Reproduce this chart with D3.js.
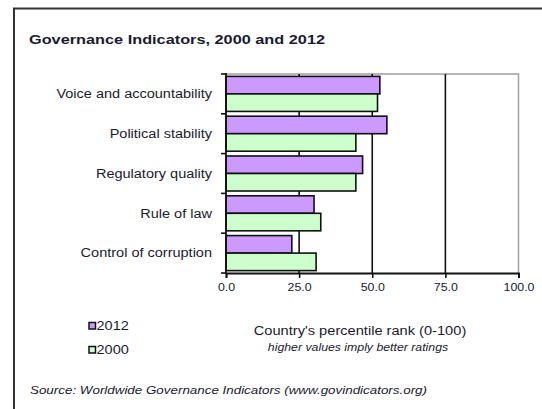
<!DOCTYPE html>
<html>
<head>
<meta charset="utf-8">
<script src="https://cdn.jsdelivr.net/npm/d3@7"></script>
<style>
  html, body { margin: 0; padding: 0; background: #fff; }
  svg { display: block; font-family: Arial, "Liberation Sans", sans-serif; }
</style>
</head>
<body>
<svg id="chart" width="542" height="409"></svg>
<script>
// Governance indicator categories, top to bottom
const categories = [
  "Voice and accountability",
  "Political stability",
  "Regulatory quality",
  "Rule of law",
  "Control of corruption"
];
// Percentile ranks (0-100)
const values2012 = [52.6, 55.0, 46.7, 30.1, 22.5];
const values2000 = [51.8, 44.4, 44.4, 32.4, 30.8];
const seriesNames = ["2012", "2000"];
const seriesColors = ["#cc99ff", "#ccffcc"];
const xTicks = [0, 25, 50, 75, 100];

const textColor = "#1a1a30";
const WIDEN = 1.16; // horizontal widening applied to all chart text
const svg = d3.select("#chart");

// Stretch text horizontally by a factor, keeping its anchor
function widen(sel, factor) {
  sel.each(function () {
    const w = this.getComputedTextLength();
    d3.select(this)
      .attr("textLength", w * factor)
      .attr("lengthAdjust", "spacingAndGlyphs");
  });
  return sel;
}

// Outer frame (only top and left edges fall inside the canvas)
svg.append("path")
  .attr("d", "M14,420 L14,8.5 L560,8.5")
  .attr("fill", "none")
  .attr("stroke", "#333")
  .attr("stroke-width", 2);

svg.append("text")
  .attr("x", 29).attr("y", 44)
  .attr("font-size", 13.5)
  .attr("font-weight", "bold")
  .attr("fill", textColor)
  .text("Governance Indicators, 2000 and 2012")
  .attr("textLength", 296)
  .attr("lengthAdjust", "spacingAndGlyphs");

const plot = { left: 226, right: 518.5, top: 74, bottom: 273 };

const x = d3.scaleLinear().domain([0, 100]).range([plot.left, plot.right]);
const y = d3.scaleBand().domain(categories)
  .range([plot.top, plot.bottom])
  .paddingInner(0.12).paddingOuter(0.06);
const ySub = d3.scaleBand().domain(seriesNames).range([0, y.bandwidth()]);

const rows = categories.map((c, i) => ({
  category: c,
  series: [
    { name: "2012", value: values2012[i], color: seriesColors[0] },
    { name: "2000", value: values2000[i], color: seriesColors[1] }
  ]
}));

// Plot frame: grey top and right edges
svg.append("path")
  .attr("d", `M${plot.left},${plot.top} L${plot.right},${plot.top} L${plot.right},${plot.bottom}`)
  .attr("fill", "none")
  .attr("stroke", "#a0a0a0")
  .attr("stroke-width", 1.5);

// Vertical gridlines
svg.append("g").selectAll("line")
  .data([25, 50, 75])
  .join("line")
  .attr("x1", d => x(d)).attr("x2", d => x(d))
  .attr("y1", plot.top).attr("y2", plot.bottom)
  .attr("stroke", "#111")
  .attr("stroke-width", 1.6);

// Bars
svg.append("g").selectAll("g")
  .data(rows)
  .join("g")
  .attr("transform", d => `translate(0,${y(d.category)})`)
  .selectAll("rect")
  .data(d => d.series)
  .join("rect")
  .attr("x", x(0))
  .attr("y", d => ySub(d.name))
  .attr("width", d => x(d.value) - x(0))
  .attr("height", ySub.bandwidth())
  .attr("fill", d => d.color)
  .attr("stroke", "#111")
  .attr("stroke-width", 1.6);

// Bottom axis
const xAxis = svg.append("g")
  .attr("transform", `translate(0,${plot.bottom})`)
  .call(d3.axisBottom(x).tickValues(xTicks).tickFormat(d3.format(".1f")).tickSizeOuter(0).tickSize(5).tickPadding(6));
xAxis.select(".domain").attr("stroke", "#111").attr("stroke-width", 1.8);
xAxis.selectAll(".tick line").attr("stroke", "#111").attr("stroke-width", 1.6);
xAxis.selectAll("text").attr("font-size", 10.5).attr("fill", textColor)
  .attr("font-family", "Arial, 'Liberation Sans', sans-serif");
widen(xAxis.selectAll("text"), 1.18);

// Left axis: category boundaries as ticks, labels centred in bands
const boundaries = d3.range(categories.length + 1)
  .map(i => plot.top + i * (plot.bottom - plot.top) / categories.length);
const yAxis = svg.append("g");
yAxis.append("line")
  .attr("x1", plot.left).attr("x2", plot.left)
  .attr("y1", plot.top - 1).attr("y2", plot.bottom)
  .attr("stroke", "#111").attr("stroke-width", 1.8);
yAxis.selectAll("line.tick")
  .data(boundaries)
  .join("line")
  .attr("class", "tick")
  .attr("x1", plot.left - 5).attr("x2", plot.left)
  .attr("y1", d => d).attr("y2", d => d)
  .attr("stroke", "#111").attr("stroke-width", 1.6);
widen(yAxis.selectAll("text")
  .data(categories)
  .join("text")
  .attr("x", 212)
  .attr("y", d => y(d) + y.bandwidth() / 2)
  .attr("dy", "0.35em")
  .attr("text-anchor", "end")
  .attr("font-size", 12.5)
  .attr("fill", textColor)
  .text(d => d), WIDEN);

// Legend
const legend = svg.append("g");
seriesNames.forEach((name, i) => {
  const cy = 326 + i * 24;
  legend.append("rect")
    .attr("x", 89).attr("y", cy - 3.5)
    .attr("width", 6.5).attr("height", 6.5)
    .attr("fill", seriesColors[i])
    .attr("stroke", "#111").attr("stroke-width", 1.5);
  widen(legend.append("text")
    .attr("x", 96.5).attr("y", cy)
    .attr("dy", "0.35em")
    .attr("font-size", 12.5)
    .attr("fill", textColor)
    .text(name), WIDEN);
});

// Axis title and note
widen(svg.append("text")
  .attr("x", 360).attr("y", 331).attr("dy", "0.35em")
  .attr("text-anchor", "middle")
  .attr("font-size", 12.5)
  .attr("fill", textColor)
  .text("Country's percentile rank (0-100)"), 1.17);
widen(svg.append("text")
  .attr("x", 358).attr("y", 347).attr("dy", "0.35em")
  .attr("text-anchor", "middle")
  .attr("font-size", 10.5)
  .attr("font-style", "italic")
  .attr("fill", textColor)
  .text("higher values imply better ratings"), 1.17);

// Source note
const source = svg.append("text")
  .attr("x", 30).attr("y", 390).attr("dy", "0.35em")
  .attr("font-size", 11)
  .attr("font-style", "italic")
  .attr("fill", textColor)
  .text("Source: Worldwide Governance Indicators (www.govindicators.org)")
  .attr("textLength", 397)
  .attr("lengthAdjust", "spacingAndGlyphs");
</script>
</body>
</html>
